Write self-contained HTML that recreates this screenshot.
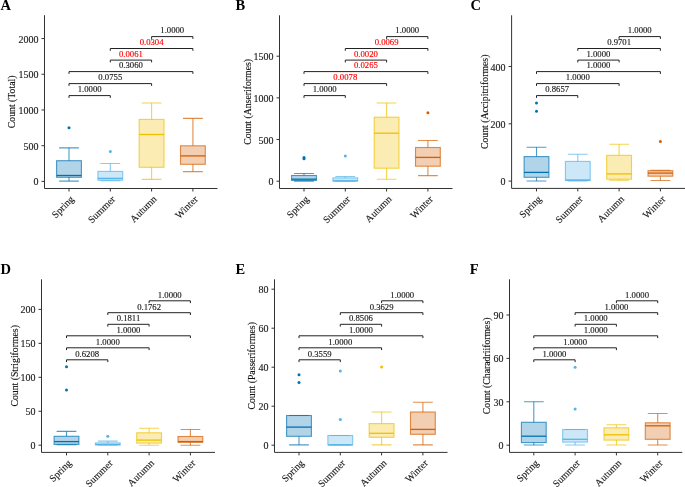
<!DOCTYPE html>
<html><head><meta charset="utf-8">
<style>
html,body{margin:0;padding:0;background:#fff;}
body{width:685px;height:487px;overflow:hidden;}
svg{display:block;will-change:transform;}
text{font-family:"Liberation Serif",serif;}
.let{font-weight:bold;font-size:14.5px;fill:#000;}
.tk{font-size:10px;fill:#1a1a1a;stroke:#1a1a1a;stroke-width:0.13px;}
.tt{font-size:9.75px;fill:#111;stroke:#111;stroke-width:0.13px;}
.sg{font-size:8.7px;}
.ax{stroke:#333;stroke-width:1;fill:none;}
.br{stroke:#222;stroke-width:1;fill:none;}
</style></head><body>
<svg width="685" height="487" viewBox="0 0 685 487">
<rect width="685" height="487" fill="#fff"/>
<text x="0.6" y="9.8" class="let">A</text>
<path d="M59.1 147.9H78.9M59.1 181.1H78.9" stroke="#0072B2" stroke-opacity="0.7" stroke-width="1.1" fill="none"/>
<path d="M69 160.7V147.9M69 177.3V181.1" stroke="#0072B2" stroke-opacity="0.7" stroke-width="1.1" fill="none"/>
<rect x="56.6" y="160.7" width="24.8" height="16.6" fill="#0072B2" fill-opacity="0.3" stroke="#0072B2" stroke-opacity="0.7" stroke-width="1.1"/>
<path d="M56.6 175.5H81.4" stroke="#0072B2" stroke-width="1.3"/>
<circle cx="69" cy="127.7" r="1.5" fill="#0072B2"/>
<path d="M100.4 163.5H120.2M100.4 180.8H120.2" stroke="#56B4E9" stroke-opacity="0.7" stroke-width="1.1" fill="none"/>
<path d="M110.3 171.4V163.5M110.3 180.2V180.8" stroke="#56B4E9" stroke-opacity="0.7" stroke-width="1.1" fill="none"/>
<rect x="97.9" y="171.4" width="24.8" height="8.8" fill="#56B4E9" fill-opacity="0.3" stroke="#56B4E9" stroke-opacity="0.7" stroke-width="1.1"/>
<path d="M97.9 178.4H122.7" stroke="#56B4E9" stroke-width="1.3"/>
<circle cx="110.3" cy="151.5" r="1.5" fill="#56B4E9"/>
<path d="M141.7 103H161.5M141.7 179.4H161.5" stroke="#F0C000" stroke-opacity="0.7" stroke-width="1.1" fill="none"/>
<path d="M151.6 119.4V103M151.6 167.3V179.4" stroke="#F0C000" stroke-opacity="0.7" stroke-width="1.1" fill="none"/>
<rect x="139.2" y="119.4" width="24.8" height="47.9" fill="#F0C000" fill-opacity="0.3" stroke="#F0C000" stroke-opacity="0.7" stroke-width="1.1"/>
<path d="M139.2 134.5H164" stroke="#F0C000" stroke-width="1.3"/>
<path d="M183 118.4H202.8M183 171.6H202.8" stroke="#D55E00" stroke-opacity="0.7" stroke-width="1.1" fill="none"/>
<path d="M192.9 145.8V118.4M192.9 164.3V171.6" stroke="#D55E00" stroke-opacity="0.7" stroke-width="1.1" fill="none"/>
<rect x="180.5" y="145.8" width="24.8" height="18.5" fill="#D55E00" fill-opacity="0.3" stroke="#D55E00" stroke-opacity="0.7" stroke-width="1.1"/>
<path d="M180.5 155.9H205.3" stroke="#D55E00" stroke-width="1.3"/>
<path d="M44.5 15.2V188.5H217.5" class="ax"/>
<path d="M41.5 181.4H44.5" class="ax"/>
<text x="38.5" y="185.4" class="tk" text-anchor="end">0</text>
<path d="M41.5 145.69H44.5" class="ax"/>
<text x="38.5" y="149.69" class="tk" text-anchor="end">500</text>
<path d="M41.5 109.97H44.5" class="ax"/>
<text x="38.5" y="113.97" class="tk" text-anchor="end">1000</text>
<path d="M41.5 74.26H44.5" class="ax"/>
<text x="38.5" y="78.26" class="tk" text-anchor="end">1500</text>
<path d="M41.5 38.55H44.5" class="ax"/>
<text x="38.5" y="42.55" class="tk" text-anchor="end">2000</text>
<path d="M69 188.5V191.5" class="ax"/>
<text transform="translate(74.6 199.8) rotate(-45)" class="tk" text-anchor="end">Spring</text>
<path d="M110.3 188.5V191.5" class="ax"/>
<text transform="translate(115.9 199.8) rotate(-45)" class="tk" text-anchor="end">Summer</text>
<path d="M151.6 188.5V191.5" class="ax"/>
<text transform="translate(157.2 199.8) rotate(-45)" class="tk" text-anchor="end">Autumn</text>
<path d="M192.9 188.5V191.5" class="ax"/>
<text transform="translate(198.5 199.8) rotate(-45)" class="tk" text-anchor="end">Winter</text>
<text transform="translate(15.3 101.85) rotate(-90)" class="tt" text-anchor="middle">Count (Total)</text>
<path d="M69 97.9V95.6H110.3V97.9" class="br"/>
<text x="89.65" y="92.4" class="sg" fill="#1a1a1a" stroke="#1a1a1a" stroke-width="0.15" text-anchor="middle">1.0000</text>
<path d="M69 85.9V83.6H151.6V85.9" class="br"/>
<text x="110.3" y="80.4" class="sg" fill="#1a1a1a" stroke="#1a1a1a" stroke-width="0.15" text-anchor="middle">0.0755</text>
<path d="M69 73.9V71.6H192.9V73.9" class="br"/>
<text x="130.95" y="68.4" class="sg" fill="#1a1a1a" stroke="#1a1a1a" stroke-width="0.15" text-anchor="middle">0.3060</text>
<path d="M110.3 62.4V60.1H151.6V62.4" class="br"/>
<text x="130.95" y="56.9" class="sg" fill="#FF0000" stroke="#FF0000" stroke-width="0.15" text-anchor="middle">0.0061</text>
<path d="M110.3 50.8V48.5H192.9V50.8" class="br"/>
<text x="151.6" y="45.3" class="sg" fill="#FF0000" stroke="#FF0000" stroke-width="0.15" text-anchor="middle">0.0304</text>
<path d="M151.6 38.9V36.6H192.9V38.9" class="br"/>
<text x="172.25" y="33.4" class="sg" fill="#1a1a1a" stroke="#1a1a1a" stroke-width="0.15" text-anchor="middle">1.0000</text>
<text x="235.4" y="9.8" class="let">B</text>
<path d="M294.1 173.5H313.9M294.1 181.1H313.9" stroke="#0072B2" stroke-opacity="0.7" stroke-width="1.1" fill="none"/>
<path d="M304 175.5V173.5M304 180.4V181.1" stroke="#0072B2" stroke-opacity="0.7" stroke-width="1.1" fill="none"/>
<rect x="291.6" y="175.5" width="24.8" height="4.9" fill="#0072B2" fill-opacity="0.3" stroke="#0072B2" stroke-opacity="0.7" stroke-width="1.1"/>
<path d="M291.6 179.2H316.4" stroke="#0072B2" stroke-width="1.3"/>
<circle cx="304" cy="157.6" r="1.5" fill="#0072B2"/>
<circle cx="304" cy="158.8" r="1.5" fill="#0072B2"/>
<path d="M335.4 176.5H355.2M335.4 181.2H355.2" stroke="#56B4E9" stroke-opacity="0.7" stroke-width="1.1" fill="none"/>
<path d="M345.3 177.9V176.5M345.3 181V181.2" stroke="#56B4E9" stroke-opacity="0.7" stroke-width="1.1" fill="none"/>
<rect x="332.9" y="177.9" width="24.8" height="3.1" fill="#56B4E9" fill-opacity="0.3" stroke="#56B4E9" stroke-opacity="0.7" stroke-width="1.1"/>
<path d="M332.9 180.9H357.7" stroke="#56B4E9" stroke-width="1.3"/>
<circle cx="345.3" cy="156" r="1.5" fill="#56B4E9"/>
<path d="M376.7 103H396.5M376.7 179.3H396.5" stroke="#F0C000" stroke-opacity="0.7" stroke-width="1.1" fill="none"/>
<path d="M386.6 117.2V103M386.6 168.2V179.3" stroke="#F0C000" stroke-opacity="0.7" stroke-width="1.1" fill="none"/>
<rect x="374.2" y="117.2" width="24.8" height="51" fill="#F0C000" fill-opacity="0.3" stroke="#F0C000" stroke-opacity="0.7" stroke-width="1.1"/>
<path d="M374.2 133.2H399" stroke="#F0C000" stroke-width="1.3"/>
<path d="M418 140.5H437.8M418 175.6H437.8" stroke="#D55E00" stroke-opacity="0.7" stroke-width="1.1" fill="none"/>
<path d="M427.9 147.5V140.5M427.9 166.2V175.6" stroke="#D55E00" stroke-opacity="0.7" stroke-width="1.1" fill="none"/>
<rect x="415.5" y="147.5" width="24.8" height="18.7" fill="#D55E00" fill-opacity="0.3" stroke="#D55E00" stroke-opacity="0.7" stroke-width="1.1"/>
<path d="M415.5 157.4H440.3" stroke="#D55E00" stroke-width="1.3"/>
<circle cx="427.9" cy="112.8" r="1.5" fill="#D55E00"/>
<path d="M279.5 15.3V188.5H452.5" class="ax"/>
<path d="M276.5 181.2H279.5" class="ax"/>
<text x="273.5" y="185.2" class="tk" text-anchor="end">0</text>
<path d="M276.5 139.53H279.5" class="ax"/>
<text x="273.5" y="143.53" class="tk" text-anchor="end">500</text>
<path d="M276.5 97.87H279.5" class="ax"/>
<text x="273.5" y="101.87" class="tk" text-anchor="end">1000</text>
<path d="M276.5 56.2H279.5" class="ax"/>
<text x="273.5" y="60.2" class="tk" text-anchor="end">1500</text>
<path d="M304 188.5V191.5" class="ax"/>
<text transform="translate(309.6 199.8) rotate(-45)" class="tk" text-anchor="end">Spring</text>
<path d="M345.3 188.5V191.5" class="ax"/>
<text transform="translate(350.9 199.8) rotate(-45)" class="tk" text-anchor="end">Summer</text>
<path d="M386.6 188.5V191.5" class="ax"/>
<text transform="translate(392.2 199.8) rotate(-45)" class="tk" text-anchor="end">Autumn</text>
<path d="M427.9 188.5V191.5" class="ax"/>
<text transform="translate(433.5 199.8) rotate(-45)" class="tk" text-anchor="end">Winter</text>
<text transform="translate(250.9 101.9) rotate(-90)" class="tt" text-anchor="middle">Count (Anseriformes)</text>
<path d="M304 97.9V95.6H345.3V97.9" class="br"/>
<text x="324.65" y="92.4" class="sg" fill="#1a1a1a" stroke="#1a1a1a" stroke-width="0.15" text-anchor="middle">1.0000</text>
<path d="M304 85.9V83.6H386.6V85.9" class="br"/>
<text x="345.3" y="80.4" class="sg" fill="#FF0000" stroke="#FF0000" stroke-width="0.15" text-anchor="middle">0.0078</text>
<path d="M304 73.9V71.6H427.9V73.9" class="br"/>
<text x="365.95" y="68.4" class="sg" fill="#FF0000" stroke="#FF0000" stroke-width="0.15" text-anchor="middle">0.0265</text>
<path d="M345.3 62.4V60.1H386.6V62.4" class="br"/>
<text x="365.95" y="56.9" class="sg" fill="#FF0000" stroke="#FF0000" stroke-width="0.15" text-anchor="middle">0.0020</text>
<path d="M345.3 50.8V48.5H427.9V50.8" class="br"/>
<text x="386.6" y="45.3" class="sg" fill="#FF0000" stroke="#FF0000" stroke-width="0.15" text-anchor="middle">0.0069</text>
<path d="M386.6 38.9V36.6H427.9V38.9" class="br"/>
<text x="407.25" y="33.4" class="sg" fill="#1a1a1a" stroke="#1a1a1a" stroke-width="0.15" text-anchor="middle">1.0000</text>
<text x="470.6" y="9.8" class="let">C</text>
<path d="M526.6 147.2H546.4M526.6 181H546.4" stroke="#0072B2" stroke-opacity="0.7" stroke-width="1.1" fill="none"/>
<path d="M536.5 156.6V147.2M536.5 177.3V181" stroke="#0072B2" stroke-opacity="0.7" stroke-width="1.1" fill="none"/>
<rect x="524.1" y="156.6" width="24.8" height="20.7" fill="#0072B2" fill-opacity="0.3" stroke="#0072B2" stroke-opacity="0.7" stroke-width="1.1"/>
<path d="M524.1 172.4H548.9" stroke="#0072B2" stroke-width="1.3"/>
<circle cx="536.5" cy="102.9" r="1.5" fill="#0072B2"/>
<circle cx="536.5" cy="111.3" r="1.5" fill="#0072B2"/>
<path d="M567.9 154.2H587.7M567.9 181H587.7" stroke="#56B4E9" stroke-opacity="0.7" stroke-width="1.1" fill="none"/>
<path d="M577.8 161.4V154.2M577.8 180.5V181" stroke="#56B4E9" stroke-opacity="0.7" stroke-width="1.1" fill="none"/>
<rect x="565.4" y="161.4" width="24.8" height="19.1" fill="#56B4E9" fill-opacity="0.3" stroke="#56B4E9" stroke-opacity="0.7" stroke-width="1.1"/>
<path d="M565.4 180H590.2" stroke="#56B4E9" stroke-width="1.3"/>
<path d="M609.2 144.3H629M609.2 180.3H629" stroke="#F0C000" stroke-opacity="0.7" stroke-width="1.1" fill="none"/>
<path d="M619.1 155.3V144.3M619.1 179.2V180.3" stroke="#F0C000" stroke-opacity="0.7" stroke-width="1.1" fill="none"/>
<rect x="606.7" y="155.3" width="24.8" height="23.9" fill="#F0C000" fill-opacity="0.3" stroke="#F0C000" stroke-opacity="0.7" stroke-width="1.1"/>
<path d="M606.7 173.9H631.5" stroke="#F0C000" stroke-width="1.3"/>
<path d="M650.5 170.3H670.3M650.5 180.5H670.3" stroke="#D55E00" stroke-opacity="0.7" stroke-width="1.1" fill="none"/>
<path d="M660.4 170.7V170.3M660.4 176.2V180.5" stroke="#D55E00" stroke-opacity="0.7" stroke-width="1.1" fill="none"/>
<rect x="648" y="170.7" width="24.8" height="5.5" fill="#D55E00" fill-opacity="0.3" stroke="#D55E00" stroke-opacity="0.7" stroke-width="1.1"/>
<path d="M648 173.1H672.8" stroke="#D55E00" stroke-width="1.3"/>
<circle cx="660.4" cy="141.4" r="1.5" fill="#D55E00"/>
<path d="M511.6 15.3V188.4H685" class="ax"/>
<path d="M508.6 181.1H511.6" class="ax"/>
<text x="505.6" y="185.1" class="tk" text-anchor="end">0</text>
<path d="M508.6 123.8H511.6" class="ax"/>
<text x="505.6" y="127.8" class="tk" text-anchor="end">200</text>
<path d="M508.6 66.5H511.6" class="ax"/>
<text x="505.6" y="70.5" class="tk" text-anchor="end">400</text>
<path d="M536.5 188.4V191.4" class="ax"/>
<text transform="translate(542.1 199.7) rotate(-45)" class="tk" text-anchor="end">Spring</text>
<path d="M577.8 188.4V191.4" class="ax"/>
<text transform="translate(583.4 199.7) rotate(-45)" class="tk" text-anchor="end">Summer</text>
<path d="M619.1 188.4V191.4" class="ax"/>
<text transform="translate(624.7 199.7) rotate(-45)" class="tk" text-anchor="end">Autumn</text>
<path d="M660.4 188.4V191.4" class="ax"/>
<text transform="translate(666 199.7) rotate(-45)" class="tk" text-anchor="end">Winter</text>
<text transform="translate(487.9 101.85) rotate(-90)" class="tt" text-anchor="middle">Count (Accipitriformes)</text>
<path d="M536.5 97.9V95.6H577.8V97.9" class="br"/>
<text x="557.15" y="92.4" class="sg" fill="#1a1a1a" stroke="#1a1a1a" stroke-width="0.15" text-anchor="middle">0.8657</text>
<path d="M536.5 85.9V83.6H619.1V85.9" class="br"/>
<text x="577.8" y="80.4" class="sg" fill="#1a1a1a" stroke="#1a1a1a" stroke-width="0.15" text-anchor="middle">1.0000</text>
<path d="M536.5 73.9V71.6H660.4V73.9" class="br"/>
<text x="598.45" y="68.4" class="sg" fill="#1a1a1a" stroke="#1a1a1a" stroke-width="0.15" text-anchor="middle">1.0000</text>
<path d="M577.8 62.4V60.1H619.1V62.4" class="br"/>
<text x="598.45" y="56.9" class="sg" fill="#1a1a1a" stroke="#1a1a1a" stroke-width="0.15" text-anchor="middle">1.0000</text>
<path d="M577.8 50.8V48.5H660.4V50.8" class="br"/>
<text x="619.1" y="45.3" class="sg" fill="#1a1a1a" stroke="#1a1a1a" stroke-width="0.15" text-anchor="middle">0.9701</text>
<path d="M619.1 38.9V36.6H660.4V38.9" class="br"/>
<text x="639.75" y="33.4" class="sg" fill="#1a1a1a" stroke="#1a1a1a" stroke-width="0.15" text-anchor="middle">1.0000</text>
<text x="0.6" y="274" class="let">D</text>
<path d="M56.6 431.4H76.4M56.6 444.7H76.4" stroke="#0072B2" stroke-opacity="0.7" stroke-width="1.1" fill="none"/>
<path d="M66.5 436.3V431.4M66.5 444.4V444.7" stroke="#0072B2" stroke-opacity="0.7" stroke-width="1.1" fill="none"/>
<rect x="54.1" y="436.3" width="24.8" height="8.1" fill="#0072B2" fill-opacity="0.3" stroke="#0072B2" stroke-opacity="0.7" stroke-width="1.1"/>
<path d="M54.1 441.6H78.9" stroke="#0072B2" stroke-width="1.3"/>
<circle cx="66.5" cy="366.8" r="1.5" fill="#0072B2"/>
<circle cx="66.5" cy="390" r="1.5" fill="#0072B2"/>
<path d="M97.9 441.1H117.7M97.9 445H117.7" stroke="#56B4E9" stroke-opacity="0.7" stroke-width="1.1" fill="none"/>
<path d="M107.8 442.9V441.1M107.8 445V445" stroke="#56B4E9" stroke-opacity="0.7" stroke-width="1.1" fill="none"/>
<rect x="95.4" y="442.9" width="24.8" height="2.1" fill="#56B4E9" fill-opacity="0.3" stroke="#56B4E9" stroke-opacity="0.7" stroke-width="1.1"/>
<path d="M95.4 444.5H120.2" stroke="#56B4E9" stroke-width="1.3"/>
<circle cx="107.8" cy="436.3" r="1.5" fill="#56B4E9"/>
<path d="M139.2 428.2H159M139.2 445.3H159" stroke="#F0C000" stroke-opacity="0.7" stroke-width="1.1" fill="none"/>
<path d="M149.1 432.8V428.2M149.1 443.1V445.3" stroke="#F0C000" stroke-opacity="0.7" stroke-width="1.1" fill="none"/>
<rect x="136.7" y="432.8" width="24.8" height="10.3" fill="#F0C000" fill-opacity="0.3" stroke="#F0C000" stroke-opacity="0.7" stroke-width="1.1"/>
<path d="M136.7 440.1H161.5" stroke="#F0C000" stroke-width="1.3"/>
<path d="M180.5 429.5H200.3M180.5 445.3H200.3" stroke="#D55E00" stroke-opacity="0.7" stroke-width="1.1" fill="none"/>
<path d="M190.4 436.5V429.5M190.4 442.3V445.3" stroke="#D55E00" stroke-opacity="0.7" stroke-width="1.1" fill="none"/>
<rect x="178" y="436.5" width="24.8" height="5.8" fill="#D55E00" fill-opacity="0.3" stroke="#D55E00" stroke-opacity="0.7" stroke-width="1.1"/>
<path d="M178 441.6H202.8" stroke="#D55E00" stroke-width="1.3"/>
<path d="M41.5 279.3V452.4H215" class="ax"/>
<path d="M38.5 445.2H41.5" class="ax"/>
<text x="35.5" y="449.2" class="tk" text-anchor="end">0</text>
<path d="M38.5 411.25H41.5" class="ax"/>
<text x="35.5" y="415.25" class="tk" text-anchor="end">50</text>
<path d="M38.5 377.3H41.5" class="ax"/>
<text x="35.5" y="381.3" class="tk" text-anchor="end">100</text>
<path d="M38.5 343.35H41.5" class="ax"/>
<text x="35.5" y="347.35" class="tk" text-anchor="end">150</text>
<path d="M38.5 309.4H41.5" class="ax"/>
<text x="35.5" y="313.4" class="tk" text-anchor="end">200</text>
<path d="M66.5 452.4V455.4" class="ax"/>
<text transform="translate(72.1 463.7) rotate(-45)" class="tk" text-anchor="end">Spring</text>
<path d="M107.8 452.4V455.4" class="ax"/>
<text transform="translate(113.4 463.7) rotate(-45)" class="tk" text-anchor="end">Summer</text>
<path d="M149.1 452.4V455.4" class="ax"/>
<text transform="translate(154.7 463.7) rotate(-45)" class="tk" text-anchor="end">Autumn</text>
<path d="M190.4 452.4V455.4" class="ax"/>
<text transform="translate(196 463.7) rotate(-45)" class="tk" text-anchor="end">Winter</text>
<text transform="translate(18 365.85) rotate(-90)" class="tt" text-anchor="middle">Count (Strigiformes)</text>
<path d="M66.5 362.1V359.8H107.8V362.1" class="br"/>
<text x="87.15" y="356.6" class="sg" fill="#1a1a1a" stroke="#1a1a1a" stroke-width="0.15" text-anchor="middle">0.6208</text>
<path d="M66.5 350.1V347.8H149.1V350.1" class="br"/>
<text x="107.8" y="344.6" class="sg" fill="#1a1a1a" stroke="#1a1a1a" stroke-width="0.15" text-anchor="middle">1.0000</text>
<path d="M66.5 338.1V335.8H190.4V338.1" class="br"/>
<text x="128.45" y="332.6" class="sg" fill="#1a1a1a" stroke="#1a1a1a" stroke-width="0.15" text-anchor="middle">1.0000</text>
<path d="M107.8 326.6V324.3H149.1V326.6" class="br"/>
<text x="128.45" y="321.1" class="sg" fill="#1a1a1a" stroke="#1a1a1a" stroke-width="0.15" text-anchor="middle">0.1811</text>
<path d="M107.8 315V312.7H190.4V315" class="br"/>
<text x="149.1" y="309.5" class="sg" fill="#1a1a1a" stroke="#1a1a1a" stroke-width="0.15" text-anchor="middle">0.1762</text>
<path d="M149.1 303.1V300.8H190.4V303.1" class="br"/>
<text x="169.75" y="297.6" class="sg" fill="#1a1a1a" stroke="#1a1a1a" stroke-width="0.15" text-anchor="middle">1.0000</text>
<text x="235.4" y="274" class="let">E</text>
<path d="M289.1 415.5H308.9M289.1 444.9H308.9" stroke="#0072B2" stroke-opacity="0.7" stroke-width="1.1" fill="none"/>
<path d="M299 415.5V415.5M299 436.3V444.9" stroke="#0072B2" stroke-opacity="0.7" stroke-width="1.1" fill="none"/>
<rect x="286.6" y="415.5" width="24.8" height="20.8" fill="#0072B2" fill-opacity="0.3" stroke="#0072B2" stroke-opacity="0.7" stroke-width="1.1"/>
<path d="M286.6 427.1H311.4" stroke="#0072B2" stroke-width="1.3"/>
<circle cx="299" cy="374.8" r="1.5" fill="#0072B2"/>
<circle cx="299" cy="382.6" r="1.5" fill="#0072B2"/>
<path d="M330.4 435.5H350.2M330.4 444.9H350.2" stroke="#56B4E9" stroke-opacity="0.7" stroke-width="1.1" fill="none"/>
<path d="M340.3 435.5V435.5M340.3 444.9V444.9" stroke="#56B4E9" stroke-opacity="0.7" stroke-width="1.1" fill="none"/>
<rect x="327.9" y="435.5" width="24.8" height="9.4" fill="#56B4E9" fill-opacity="0.3" stroke="#56B4E9" stroke-opacity="0.7" stroke-width="1.1"/>
<path d="M327.9 444.9H352.7" stroke="#56B4E9" stroke-width="1.3"/>
<circle cx="340.3" cy="370.9" r="1.5" fill="#56B4E9"/>
<circle cx="340.3" cy="419.5" r="1.5" fill="#56B4E9"/>
<path d="M371.7 412H391.5M371.7 444.9H391.5" stroke="#F0C000" stroke-opacity="0.7" stroke-width="1.1" fill="none"/>
<path d="M381.6 423.6V412M381.6 437.3V444.9" stroke="#F0C000" stroke-opacity="0.7" stroke-width="1.1" fill="none"/>
<rect x="369.2" y="423.6" width="24.8" height="13.7" fill="#F0C000" fill-opacity="0.3" stroke="#F0C000" stroke-opacity="0.7" stroke-width="1.1"/>
<path d="M369.2 433.3H394" stroke="#F0C000" stroke-width="1.3"/>
<circle cx="381.6" cy="367" r="1.5" fill="#F0C000"/>
<path d="M413 402.2H432.8M413 444.9H432.8" stroke="#D55E00" stroke-opacity="0.7" stroke-width="1.1" fill="none"/>
<path d="M422.9 412V402.2M422.9 434.3V444.9" stroke="#D55E00" stroke-opacity="0.7" stroke-width="1.1" fill="none"/>
<rect x="410.5" y="412" width="24.8" height="22.3" fill="#D55E00" fill-opacity="0.3" stroke="#D55E00" stroke-opacity="0.7" stroke-width="1.1"/>
<path d="M410.5 429.4H435.3" stroke="#D55E00" stroke-width="1.3"/>
<path d="M274.5 279.3V452.4H447.5" class="ax"/>
<path d="M271.5 445.2H274.5" class="ax"/>
<text x="268.5" y="449.2" class="tk" text-anchor="end">0</text>
<path d="M271.5 406.2H274.5" class="ax"/>
<text x="268.5" y="410.2" class="tk" text-anchor="end">20</text>
<path d="M271.5 367.2H274.5" class="ax"/>
<text x="268.5" y="371.2" class="tk" text-anchor="end">40</text>
<path d="M271.5 328.2H274.5" class="ax"/>
<text x="268.5" y="332.2" class="tk" text-anchor="end">60</text>
<path d="M271.5 289.2H274.5" class="ax"/>
<text x="268.5" y="293.2" class="tk" text-anchor="end">80</text>
<path d="M299 452.4V455.4" class="ax"/>
<text transform="translate(304.6 463.7) rotate(-45)" class="tk" text-anchor="end">Spring</text>
<path d="M340.3 452.4V455.4" class="ax"/>
<text transform="translate(345.9 463.7) rotate(-45)" class="tk" text-anchor="end">Summer</text>
<path d="M381.6 452.4V455.4" class="ax"/>
<text transform="translate(387.2 463.7) rotate(-45)" class="tk" text-anchor="end">Autumn</text>
<path d="M422.9 452.4V455.4" class="ax"/>
<text transform="translate(428.5 463.7) rotate(-45)" class="tk" text-anchor="end">Winter</text>
<text transform="translate(255.4 365.85) rotate(-90)" class="tt" text-anchor="middle">Count (Passeriformes)</text>
<path d="M299 362.1V359.8H340.3V362.1" class="br"/>
<text x="319.65" y="356.6" class="sg" fill="#1a1a1a" stroke="#1a1a1a" stroke-width="0.15" text-anchor="middle">0.3559</text>
<path d="M299 350.1V347.8H381.6V350.1" class="br"/>
<text x="340.3" y="344.6" class="sg" fill="#1a1a1a" stroke="#1a1a1a" stroke-width="0.15" text-anchor="middle">1.0000</text>
<path d="M299 338.1V335.8H422.9V338.1" class="br"/>
<text x="360.95" y="332.6" class="sg" fill="#1a1a1a" stroke="#1a1a1a" stroke-width="0.15" text-anchor="middle">1.0000</text>
<path d="M340.3 326.6V324.3H381.6V326.6" class="br"/>
<text x="360.95" y="321.1" class="sg" fill="#1a1a1a" stroke="#1a1a1a" stroke-width="0.15" text-anchor="middle">0.8506</text>
<path d="M340.3 315V312.7H422.9V315" class="br"/>
<text x="381.6" y="309.5" class="sg" fill="#1a1a1a" stroke="#1a1a1a" stroke-width="0.15" text-anchor="middle">0.3629</text>
<path d="M381.6 303.1V300.8H422.9V303.1" class="br"/>
<text x="402.25" y="297.6" class="sg" fill="#1a1a1a" stroke="#1a1a1a" stroke-width="0.15" text-anchor="middle">1.0000</text>
<text x="469.8" y="274" class="let">F</text>
<path d="M523.9 401.7H543.7M523.9 445H543.7" stroke="#0072B2" stroke-opacity="0.7" stroke-width="1.1" fill="none"/>
<path d="M533.8 422.3V401.7M533.8 442.6V445" stroke="#0072B2" stroke-opacity="0.7" stroke-width="1.1" fill="none"/>
<rect x="521.4" y="422.3" width="24.8" height="20.3" fill="#0072B2" fill-opacity="0.3" stroke="#0072B2" stroke-opacity="0.7" stroke-width="1.1"/>
<path d="M521.4 436.2H546.2" stroke="#0072B2" stroke-width="1.3"/>
<path d="M565.2 429.5H585M565.2 445H585" stroke="#56B4E9" stroke-opacity="0.7" stroke-width="1.1" fill="none"/>
<path d="M575.1 429.5V429.5M575.1 442.1V445" stroke="#56B4E9" stroke-opacity="0.7" stroke-width="1.1" fill="none"/>
<rect x="562.7" y="429.5" width="24.8" height="12.6" fill="#56B4E9" fill-opacity="0.3" stroke="#56B4E9" stroke-opacity="0.7" stroke-width="1.1"/>
<path d="M562.7 439.3H587.5" stroke="#56B4E9" stroke-width="1.3"/>
<circle cx="575.1" cy="409" r="1.5" fill="#56B4E9"/>
<circle cx="575.1" cy="367.3" r="1.5" fill="#56B4E9"/>
<path d="M606.5 424.8H626.3M606.5 445H626.3" stroke="#F0C000" stroke-opacity="0.7" stroke-width="1.1" fill="none"/>
<path d="M616.4 427.8V424.8M616.4 440.1V445" stroke="#F0C000" stroke-opacity="0.7" stroke-width="1.1" fill="none"/>
<rect x="604" y="427.8" width="24.8" height="12.3" fill="#F0C000" fill-opacity="0.3" stroke="#F0C000" stroke-opacity="0.7" stroke-width="1.1"/>
<path d="M604 434.8H628.8" stroke="#F0C000" stroke-width="1.3"/>
<path d="M647.8 413.5H667.6M647.8 445H667.6" stroke="#D55E00" stroke-opacity="0.7" stroke-width="1.1" fill="none"/>
<path d="M657.7 422.8V413.5M657.7 439.3V445" stroke="#D55E00" stroke-opacity="0.7" stroke-width="1.1" fill="none"/>
<rect x="645.3" y="422.8" width="24.8" height="16.5" fill="#D55E00" fill-opacity="0.3" stroke="#D55E00" stroke-opacity="0.7" stroke-width="1.1"/>
<path d="M645.3 425.8H670.1" stroke="#D55E00" stroke-width="1.3"/>
<path d="M509.5 279.3V452.4H682.3" class="ax"/>
<path d="M506.5 445.2H509.5" class="ax"/>
<text x="503.5" y="449.2" class="tk" text-anchor="end">0</text>
<path d="M506.5 401.8H509.5" class="ax"/>
<text x="503.5" y="405.8" class="tk" text-anchor="end">30</text>
<path d="M506.5 358.4H509.5" class="ax"/>
<text x="503.5" y="362.4" class="tk" text-anchor="end">60</text>
<path d="M506.5 315H509.5" class="ax"/>
<text x="503.5" y="319" class="tk" text-anchor="end">90</text>
<path d="M533.8 452.4V455.4" class="ax"/>
<text transform="translate(539.4 463.7) rotate(-45)" class="tk" text-anchor="end">Spring</text>
<path d="M575.1 452.4V455.4" class="ax"/>
<text transform="translate(580.7 463.7) rotate(-45)" class="tk" text-anchor="end">Summer</text>
<path d="M616.4 452.4V455.4" class="ax"/>
<text transform="translate(622 463.7) rotate(-45)" class="tk" text-anchor="end">Autumn</text>
<path d="M657.7 452.4V455.4" class="ax"/>
<text transform="translate(663.3 463.7) rotate(-45)" class="tk" text-anchor="end">Winter</text>
<text transform="translate(489.8 365.85) rotate(-90)" class="tt" text-anchor="middle">Count (Charadriiformes)</text>
<path d="M533.8 362.1V359.8H575.1V362.1" class="br"/>
<text x="554.45" y="356.6" class="sg" fill="#1a1a1a" stroke="#1a1a1a" stroke-width="0.15" text-anchor="middle">1.0000</text>
<path d="M533.8 350.1V347.8H616.4V350.1" class="br"/>
<text x="575.1" y="344.6" class="sg" fill="#1a1a1a" stroke="#1a1a1a" stroke-width="0.15" text-anchor="middle">1.0000</text>
<path d="M533.8 338.1V335.8H657.7V338.1" class="br"/>
<text x="595.75" y="332.6" class="sg" fill="#1a1a1a" stroke="#1a1a1a" stroke-width="0.15" text-anchor="middle">1.0000</text>
<path d="M575.1 326.6V324.3H616.4V326.6" class="br"/>
<text x="595.75" y="321.1" class="sg" fill="#1a1a1a" stroke="#1a1a1a" stroke-width="0.15" text-anchor="middle">1.0000</text>
<path d="M575.1 315V312.7H657.7V315" class="br"/>
<text x="616.4" y="309.5" class="sg" fill="#1a1a1a" stroke="#1a1a1a" stroke-width="0.15" text-anchor="middle">1.0000</text>
<path d="M616.4 303.1V300.8H657.7V303.1" class="br"/>
<text x="637.05" y="297.6" class="sg" fill="#1a1a1a" stroke="#1a1a1a" stroke-width="0.15" text-anchor="middle">1.0000</text>
</svg>
</body></html>
